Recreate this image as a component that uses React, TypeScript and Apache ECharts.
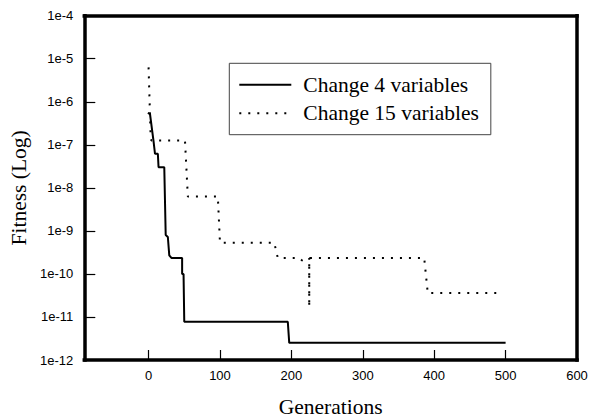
import React, { useEffect, useRef } from "react";
import * as echarts from "echarts";

// Generations and fitness values
const change4Gen = [-1, 2, 7, 9, 13, 14, 22, 24, 27, 29, 32, 47, 47, 49, 50, 195, 197, 500];
const change4Fit = [5.5e-7, 5.2e-7, 1.2e-7, 6.2e-8, 6.2e-8, 3.0e-8, 3.0e-8, 8e-10, 7.2e-10, 2.7e-10, 2.35e-10, 2.35e-10, 1.0e-10, 1.0e-10, 7.7e-12, 7.7e-12, 2.5e-12, 2.5e-12];

const change15Gen = [0, 3, 4, 51, 55, 97, 100, 176, 181, 211, 215, 220, 225, 225, 225, 386, 391, 495];
const change15Fit = [6.3e-6, 1.4e-7, 1.26e-7, 1.26e-7, 6.3e-9, 6.3e-9, 5.3e-10, 5.3e-10, 2.35e-10, 2.35e-10, 2.05e-10, 2.3e-10, 2.35e-10, 1.7e-11, 2.35e-10, 2.35e-10, 3.6e-11, 3.6e-11];

const xTicks = [0, 100, 200, 300, 400, 500, 600];
const yTicks = [1e-11, 1e-10, 1e-9, 1e-8, 1e-7, 1e-6, 1e-5];
const seriesNames = ["Change 4 variables", "Change 15 variables"];

const X_MIN = -90;
const X_MAX = 600;
const Y_MIN = 1e-12;
const Y_MAX = 1e-4;

// layout (pixels)
const W = 589;
const H = 418;
const GRID = { left: 84.3, top: 15.7, right: 12, bottom: 58 };
const TICK_X_PX = 10;
const TICK_Y_PX = 11;

const zip = (xs: number[], ys: number[]) => xs.map((x, i) => [x, ys[i]]);

export default function App() {
  const ref = useRef<HTMLDivElement>(null);
  useEffect(() => {
    if (!ref.current) return;
    const chart = echarts.init(ref.current, null, { renderer: "svg" });
    const sans = "Liberation Sans, Arial, sans-serif";
    const serif = "Liberation Serif, Times New Roman, serif";
    const border = { show: true, onZero: false, lineStyle: { color: "#000", width: 3.5, cap: "square" } };

    // convert tick lengths from pixels to data units of the axes
    const gridW = W - GRID.left - GRID.right;
    const gridH = H - GRID.top - GRID.bottom;
    const decades = Math.log10(Y_MAX) - Math.log10(Y_MIN);
    const xTickTop = Y_MIN * Math.pow(10, (TICK_X_PX / gridH) * decades);
    const yTickEnd = X_MIN + (TICK_Y_PX / gridW) * (X_MAX - X_MIN);

    const tickLines: any[] = [
      ...xTicks.map((v) => [{ coord: [v, Y_MIN] }, { coord: [v, xTickTop] }]),
      ...yTicks.map((v) => [{ coord: [X_MIN, v] }, { coord: [yTickEnd, v] }]),
    ];

    chart.setOption({
      animation: false,
      backgroundColor: "#fff",
      grid: {
        ...GRID,
        show: false,
        containLabel: false,
        outerBoundsMode: "none",
      },
      legend: {
        orient: "vertical",
        left: 229.3,
        top: 63.3,
        data: seriesNames,
        itemWidth: 52,
        itemHeight: 14,
        itemGap: 6.4,
        padding: [10.5, 12, 10.5, 9],
        borderColor: "#444",
        borderWidth: 1,
        backgroundColor: "#fff",
        itemStyle: { color: "rgba(0,0,0,0)", borderColor: "rgba(0,0,0,0)", borderWidth: 0 },
        textStyle: {
          fontFamily: serif,
          fontSize: 21.5,
          color: "#000",
          lineHeight: 21,
          padding: [0, 0, 0, 7],
        },
      },
      xAxis: [
        {
          type: "value",
          position: "bottom",
          min: X_MIN,
          max: X_MAX,
          name: "Generations",
          nameLocation: "middle",
          nameGap: 36,
          nameMoveOverlap: false,
          nameTextStyle: { fontFamily: serif, fontSize: 21.5, color: "#000" },
          axisLine: border,
          splitLine: { show: false },
          axisTick: { show: false },
          axisLabel: {
            fontFamily: sans,
            fontSize: 13,
            color: "#000",
            margin: 9,
            customValues: xTicks,
          },
        },
        {
          type: "value",
          position: "top",
          min: X_MIN,
          max: X_MAX,
          axisLine: border,
          splitLine: { show: false },
          axisTick: { show: false },
          axisLabel: { show: false },
        },
      ],
      yAxis: [
        {
          type: "log",
          position: "left",
          logBase: 10,
          min: Y_MIN,
          max: Y_MAX,
          interval: 1,
          splitNumber: 8,
          name: "Fitness (Log)",
          nameLocation: "middle",
          nameGap: 54,
          nameMoveOverlap: false,
          nameTextStyle: { fontFamily: serif, fontSize: 21.5, color: "#000" },
          axisLine: border,
          splitLine: { show: false },
          axisTick: { show: false },
          axisLabel: {
            fontFamily: sans,
            fontSize: 13,
            color: "#000",
            margin: 11,
            formatter: (v: number) => "1e" + Math.round(Math.log10(v)),
          },
        },
        {
          type: "log",
          position: "right",
          logBase: 10,
          min: Y_MIN,
          max: Y_MAX,
          axisLine: border,
          splitLine: { show: false },
          axisTick: { show: false },
          axisLabel: { show: false },
        },
      ],
      series: [
        {
          name: seriesNames[0],
          type: "line",
          symbol: "none",
          xAxisIndex: 0,
          yAxisIndex: 0,
          data: zip(change4Gen, change4Fit),
          lineStyle: { color: "#000", width: 2 },
          itemStyle: { color: "#000" },
          markLine: {
            silent: true,
            symbol: ["none", "none"],
            label: { show: false },
            lineStyle: { color: "#000", width: 1.2, type: "solid" },
            emphasis: { disabled: true },
            data: tickLines,
          },
        },
        {
          name: seriesNames[1],
          type: "line",
          symbol: "none",
          xAxisIndex: 0,
          yAxisIndex: 0,
          data: zip(change15Gen, change15Fit),
          lineStyle: { color: "#000", width: 2, type: [2, 7] },
          itemStyle: { color: "#000" },
        },
      ],
    });
    return () => chart.dispose();
  }, []);
  return (
    <div
      ref={ref}
      style={{ position: "fixed", left: 0, top: 0, width: W, height: H }}
    />
  );
}
